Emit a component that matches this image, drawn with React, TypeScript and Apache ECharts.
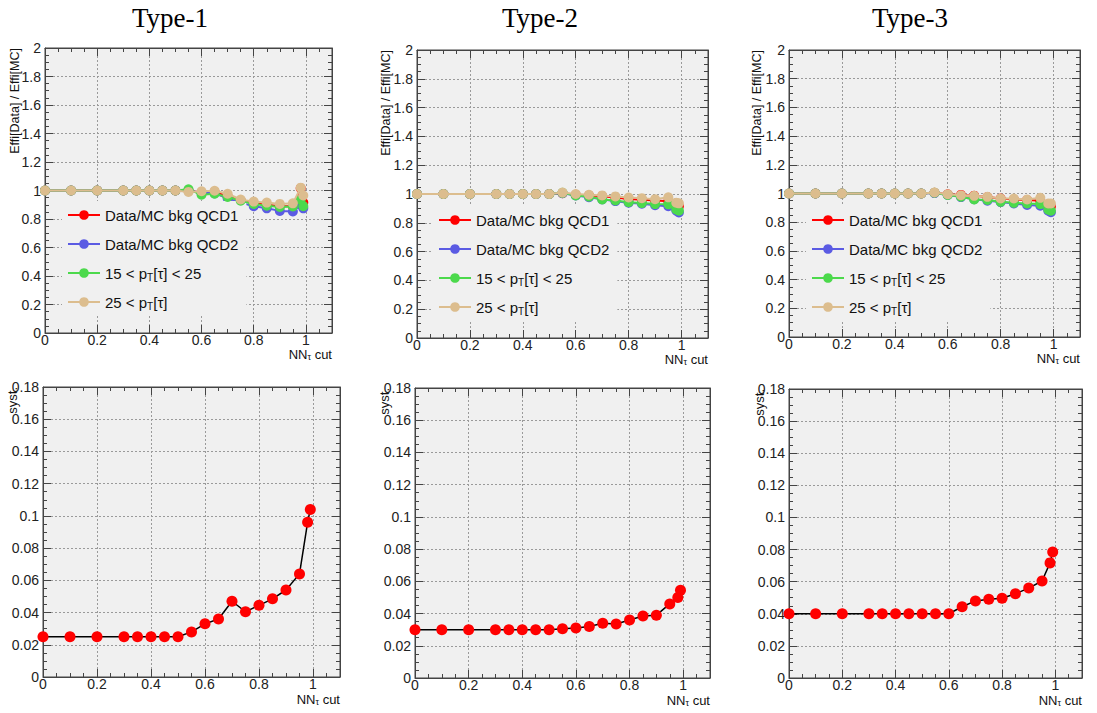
import React, { useEffect, useRef } from "react";
import * as echarts from "echarts";

// ---------- data ----------
const nnCut = [0, 0.1, 0.2, 0.3, 0.35, 0.4, 0.45, 0.5, 0.55, 0.6, 0.65, 0.7, 0.75, 0.8, 0.85, 0.9, 0.95, 0.98, 0.99];

const typeTitles = ["Type-1", "Type-2", "Type-3"];
const seriesNames = ["Data/MC bkg QCD1", "Data/MC bkg QCD2", "15 < pT[τ] < 25", "25 < pT[τ]"];
const seriesColors = ["#ff0000", "#5b5be3", "#4cd94c", "#dcbd8e"];

// Type-1 ratios
const t1QCD1 = [1, 1, 1, 1, 1, 1, 1, 1, 1.0, 0.985, 0.99, 0.96, 0.93, 0.91, 0.9, 0.89, 0.89, 1.015, 0.915];
const t1QCD2 = [1, 1, 1, 1, 1, 1, 1, 1, 1.0, 0.985, 0.98, 0.945, 0.915, 0.89, 0.875, 0.857, 0.853, 0.9, 0.875];
const t1Pt15 = [1, 1, 1, 1, 1, 1, 1, 1, 1.008, 0.97, 0.977, 0.955, 0.928, 0.905, 0.893, 0.884, 0.888, 0.935, 0.89];
const t1Pt25 = [1, 1, 1, 1, 1, 1, 1, 1, 0.99, 0.995, 0.998, 0.977, 0.937, 0.922, 0.915, 0.906, 0.91, 1.02, 0.965];
// visible error bars of the QCD1 points at the last two cuts (Type-1)
const t1QCD1ErrX = [0.98, 0.99];
const t1QCD1ErrVal = [1.015, 0.915];
const t1QCD1Err = [0.035, 0.06];

// Type-2 ratios
const t2QCD1 = [1, 1, 1, 1, 1, 1, 1, 1, 1.005, 0.995, 0.99, 0.985, 0.975, 0.965, 0.96, 0.955, 0.95, 0.935, 0.915];
const t2QCD2 = [1, 1, 1, 1, 1, 1, 1, 1, 1.005, 0.99, 0.978, 0.963, 0.95, 0.94, 0.932, 0.922, 0.915, 0.885, 0.872];
const t2Pt15 = [1, 1, 1, 1, 1, 1, 1, 1, 1.008, 0.99, 0.982, 0.962, 0.955, 0.943, 0.937, 0.93, 0.928, 0.893, 0.884];
const t2Pt25 = [1, 1, 1, 1, 1, 1, 1, 1, 1.01, 1.0, 0.995, 0.99, 0.983, 0.976, 0.971, 0.964, 0.977, 0.94, 0.935];

// Type-3 ratios
const t3QCD1 = [1, 1, 1, 1, 1, 1, 1, 1, 1.005, 0.995, 0.99, 0.985, 0.975, 0.965, 0.958, 0.955, 0.95, 0.925, 0.91];
const t3QCD2 = [1, 1, 1, 1, 1, 1, 1, 1, 1.003, 0.99, 0.975, 0.96, 0.95, 0.94, 0.93, 0.92, 0.915, 0.88, 0.87];
const t3Pt15 = [1, 1, 1, 1, 1, 1, 1, 1, 1.005, 0.99, 0.978, 0.958, 0.955, 0.942, 0.935, 0.93, 0.926, 0.888, 0.88];
const t3Pt25 = [1, 1, 1, 1, 1, 1, 1, 1, 1.007, 0.995, 0.988, 0.984, 0.977, 0.965, 0.965, 0.958, 0.97, 0.93, 0.93];

// systematics
const syst1 = [0.025, 0.025, 0.025, 0.025, 0.025, 0.025, 0.025, 0.025, 0.028, 0.033, 0.036, 0.047, 0.0405, 0.0445, 0.0485, 0.054, 0.064, 0.096, 0.104];
const syst2 = [0.03, 0.03, 0.03, 0.03, 0.03, 0.03, 0.03, 0.03, 0.0305, 0.031, 0.032, 0.034, 0.0335, 0.036, 0.0385, 0.039, 0.046, 0.05, 0.0545];
const syst3 = [0.04, 0.04, 0.04, 0.04, 0.04, 0.04, 0.04, 0.04, 0.04, 0.04, 0.0444, 0.048, 0.049, 0.0497, 0.0525, 0.056, 0.0604, 0.0717, 0.0785];

const ratioSets = [
  [t1QCD1, t1QCD2, t1Pt15, t1Pt25],
  [t2QCD1, t2QCD2, t2Pt15, t2Pt25],
  [t3QCD1, t3QCD2, t3Pt15, t3Pt25],
];
const systSets = [syst1, syst2, syst3];

// ---------- layout ----------
const topGrids = [
  { left: 45, top: 48, width: 287, height: 285 },
  { left: 417, top: 50, width: 291, height: 288 },
  { left: 789, top: 50, width: 291, height: 287 },
];
const botGrids = [
  { left: 43, top: 387, width: 297, height: 290 },
  { left: 415, top: 388, width: 295, height: 290 },
  { left: 789, top: 389, width: 293, height: 289 },
];
const titleX = [170, 540, 910];
const topYNameX = [15, 386, 757];
const botYNameX = [12, 384, 759];
const legendPos = [
  { left: 62, top: 201 },
  { left: 433, top: 206 },
  { left: 806, top: 206 },
];

const SANS = '"Liberation Sans", Arial, sans-serif';
const SERIF = '"Liberation Serif", "DejaVu Serif", serif';
const AX = "#444";

function makeX(gi: number, pos: "bottom" | "top", margin: number) {
  const main = pos === "bottom";
  return {
    type: "value",
    gridIndex: gi,
    position: pos,
    min: 0,
    max: 1.1,
    interval: 0.2,
    axisLine: { show: true, onZero: false, lineStyle: { color: AX, width: 1 } },
    axisTick: { show: true, inside: true, length: 8, lineStyle: { color: AX } },
    minorTick: { show: true, splitNumber: 4, length: 4, lineStyle: { color: AX } },
    axisLabel: {
      show: main,
      showMaxLabel: false,
      fontFamily: SANS,
      fontSize: 14,
      lineHeight: 12,
      color: "#222",
      margin,
    },
    splitLine: main ? { show: true, lineStyle: { color: "#9a9a9a", type: [2, 2], width: 1 } } : { show: false },
    minorSplitLine: { show: false },
  };
}

function makeY(gi: number, pos: "left" | "right", max: number, interval: number) {
  const main = pos === "left";
  return {
    type: "value",
    gridIndex: gi,
    position: pos,
    min: 0,
    max,
    interval,
    axisLine: { show: true, onZero: false, lineStyle: { color: AX, width: 1 } },
    axisTick: { show: true, inside: true, length: 8, lineStyle: { color: AX } },
    minorTick: { show: true, splitNumber: 4, length: 4, lineStyle: { color: AX } },
    axisLabel: {
      show: main,
      fontFamily: SANS,
      fontSize: 14,
      color: "#222",
      margin: 4,
    },
    splitLine: main ? { show: true, lineStyle: { color: "#9a9a9a", type: [2, 2], width: 1 } } : { show: false },
  };
}

function legendFormatter(name: string) {
  if (name.indexOf("pT") >= 0) {
    const parts = name.split("pT");
    return parts[0] + "p{sub|T}" + parts[1];
  }
  return name;
}

function xNameText(x: number, y: number) {
  return {
    type: "text",
    x,
    y,
    z: 10,
    style: {
      text: "{a|NN}{s|τ}{a| cut}",
      textAlign: "right",
      textVerticalAlign: "middle",
      rich: {
        a: { fontFamily: SANS, fontSize: 13, fill: "#111", color: "#111", lineHeight: 14 },
        s: { fontFamily: SANS, fontSize: 9, fill: "#111", color: "#111", lineHeight: 14, verticalAlign: "bottom", padding: [5, 0, 0, 0] },
      },
    },
  };
}

export default function App() {
  const ref = useRef<HTMLDivElement>(null);

  useEffect(() => {
    if (!ref.current) return;
    const chart = echarts.init(ref.current, undefined, { renderer: "svg" });

    const grids: any[] = [];
    const xAxes: any[] = [];
    const yAxes: any[] = [];
    const series: any[] = [];
    const legends: any[] = [];
    const graphics: any[] = [];

    const gridBase = { show: true, backgroundColor: "#f0f0f0", borderColor: AX, borderWidth: 1, containLabel: false };

    // top row
    topGrids.forEach((g, p) => {
      const gi = grids.length;
      grids.push({ ...gridBase, ...g });
      const xi = xAxes.length;
      xAxes.push(makeX(gi, "bottom", 1), makeX(gi, "top", 1));
      const yi = yAxes.length;
      yAxes.push(makeY(gi, "left", 2, 0.2), makeY(gi, "right", 2, 0.2));
      ratioSets[p].forEach((vals, s) => {
        series.push({
          type: "line",
          name: seriesNames[s],
          xAxisIndex: xi,
          yAxisIndex: yi,
          data: nnCut.map((x, i) => [x, vals[i]]),
          symbol: "circle",
          symbolSize: 10,
          showSymbol: true,
          lineStyle: { color: seriesColors[s], width: 2 },
          itemStyle: { color: seriesColors[s] },
          z: 2 + s,
        });
      });
      if (p === 0) {
        series.push({
          type: "custom",
          name: "QCD1 errors",
          xAxisIndex: xi,
          yAxisIndex: yi,
          z: 3,
          data: t1QCD1ErrX.map((x, i) => [x, t1QCD1ErrVal[i] - t1QCD1Err[i], t1QCD1ErrVal[i] + t1QCD1Err[i]]),
          renderItem: (params: any, api: any) => {
            const lo = api.coord([api.value(0), api.value(1)]);
            const hi = api.coord([api.value(0), api.value(2)]);
            return {
              type: "line",
              shape: { x1: lo[0], y1: lo[1], x2: hi[0], y2: hi[1] },
              style: { stroke: "#ff0000", lineWidth: 2 },
            };
          },
        });
      }
      legends.push({
        show: true,
        orient: "vertical",
        left: legendPos[p].left,
        top: legendPos[p].top,
        data: seriesNames,
        itemWidth: 32,
        itemHeight: 12,
        itemGap: 11,
        padding: [5, 8, 5, 5],
        backgroundColor: "#f0f0f0",
        formatter: legendFormatter,
        selectedMode: false,
        textStyle: {
          fontFamily: SANS,
          fontSize: 15,
          color: "#111",
          lineHeight: 18,
          rich: {
            sub: { fontFamily: SANS, fontSize: 10, color: "#111", verticalAlign: "bottom", lineHeight: 18, padding: [7, 0, 0, 0] },
          },
        },
      });
      graphics.push({
        type: "text",
        x: titleX[p],
        y: 18,
        style: { text: typeTitles[p], font: `27px ${SERIF}`, fill: "#000", textAlign: "center", textVerticalAlign: "middle" },
      });
      graphics.push({
        type: "text",
        x: topYNameX[p],
        y: g.top,
        rotation: Math.PI / 2,
        style: { text: "Effi[Data] / Effi[MC]", font: `12.5px ${SANS}`, fill: "#111", textAlign: "right", textVerticalAlign: "middle" },
      });
      graphics.push(xNameText(g.left + g.width, g.top + g.height + 21));
    });

    // bottom row
    botGrids.forEach((g, p) => {
      const gi = grids.length;
      grids.push({ ...gridBase, ...g });
      const xi = xAxes.length;
      xAxes.push(makeX(gi, "bottom", 1), makeX(gi, "top", 1));
      const yi = yAxes.length;
      yAxes.push(makeY(gi, "left", 0.18, 0.02), makeY(gi, "right", 0.18, 0.02));
      series.push({
        type: "line",
        name: "syst " + typeTitles[p],
        xAxisIndex: xi,
        yAxisIndex: yi,
        data: nnCut.map((x, i) => [x, systSets[p][i]]),
        symbol: "circle",
        symbolSize: 11,
        showSymbol: true,
        lineStyle: { color: "#000", width: 1.5 },
        itemStyle: { color: "#ff0000" },
        z: 3,
      });
      graphics.push({
        type: "text",
        x: botYNameX[p],
        y: g.top,
        rotation: Math.PI / 2,
        style: { text: "syst.", font: `13px ${SANS}`, fill: "#111", textAlign: "right", textVerticalAlign: "middle" },
      });
      graphics.push(xNameText(g.left + g.width, g.top + g.height + 22));
    });

    chart.setOption({
      animation: false,
      backgroundColor: "#ffffff",
      grid: grids,
      xAxis: xAxes,
      yAxis: yAxes,
      legend: legends,
      series,
      graphic: graphics,
    });

    return () => chart.dispose();
  }, []);

  return (
    <div
      ref={ref}
      style={{ position: "fixed", left: 0, top: 0, width: 1097, height: 713, background: "#fff" }}
    />
  );
}
